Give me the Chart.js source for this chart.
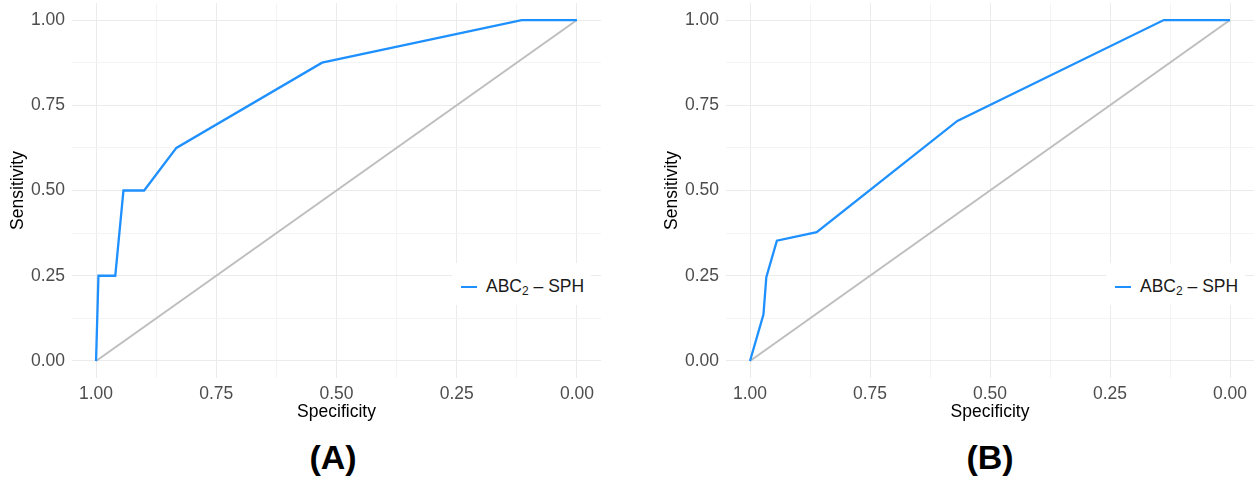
<!DOCTYPE html>
<html>
<head>
<meta charset="utf-8">
<script src="https://cdn.jsdelivr.net/npm/chart.js@4/dist/chart.umd.min.js"></script>
<style>
  body { margin: 0; background: #fff; }
  #wrap { position: relative; width: 1257px; height: 501px; overflow: hidden; font-family: "Liberation Sans", Arial, sans-serif; }
  canvas { position: absolute; top: 0; }
  #rocA { left: 0; }
  #rocB { left: 628px; }
  .legend { position: absolute; top: 263px; width: 139px; height: 42px; background: #fff; }
  .legend .key { position: absolute; left: 9px; top: 23px; width: 16px; height: 2px; background: #1E90FF; }
  .legend .txt { position: absolute; left: 34px; top: 13px; font-size: 17.5px; line-height: 20px; color: #1a1a1a; white-space: nowrap; }
  .legend sub { font-size: 12px; vertical-align: -3px; line-height: 0; }
  .panel { position: absolute; top: 438px; font-size: 34px; font-weight: bold; font-family: "Liberation Sans Narrow", "Liberation Sans", Arial, sans-serif; transform: translateX(-50%); }
</style>
</head>
<body>
<div id="wrap">
  <canvas id="rocA" width="628" height="430"></canvas>
  <canvas id="rocB" width="629" height="430"></canvas>
  <div class="legend" style="left:452px"><span class="key"></span><span class="txt">ABC<sub>2</sub> – SPH</span></div>
  <div class="legend" style="left:1106px"><span class="key"></span><span class="txt">ABC<sub>2</sub> – SPH</span></div>
  <div class="panel" style="left:333px">(A)</div>
  <div class="panel" style="left:990px">(B)</div>
</div>
<script>
// ROC points (specificity, sensitivity)
const specA = [1.00, 0.995, 0.96, 0.943, 0.90, 0.833, 0.53, 0.115, 0.00];
const sensA = [0.00, 0.25, 0.25, 0.50, 0.50, 0.625, 0.875, 1.00, 1.00];

const specB = [1.00, 0.972, 0.966, 0.944, 0.861, 0.568, 0.138, 0.00];
const sensB = [0.00, 0.136, 0.246, 0.353, 0.378, 0.704, 1.00, 1.00];

// chance line
const diagSpec = [1, 0];
const diagSens = [0, 1];

const majorTicks = [0, 0.25, 0.5, 0.75, 1];
const tickLabels = ['0.00', '0.25', '0.50', '0.75', '1.00'];
const minorTicks = [0.125, 0.375, 0.625, 0.875];

const FONT = '"Liberation Sans", Arial, sans-serif';
const allTicks = majorTicks.concat(minorTicks).sort((a, b) => a - b);

function toPoints(xs, ys) {
    return xs.map((x, i) => ({ x: x, y: ys[i] }));
}

function axis(titleText, isX) {
    return {
        type: 'linear',
        min: -0.05,
        max: 1.05,
        reverse: isX,
        afterBuildTicks: function(scale) {
            scale.ticks = allTicks.map(v => ({ value: v }));
        },
        afterFit: function(scale) {
            if (isX) scale.height = 52; else scale.width = 72;
            // ticks sit well inside the panel, no need for label overflow padding
            scale.paddingTop = 0;
            scale.paddingBottom = 0;
            scale.paddingLeft = 0;
            scale.paddingRight = 0;
        },
        border: { display: false },
        grid: {
            drawTicks: false,
            lineWidth: 1,
            color: function(ctx) {
                return majorTicks.includes(ctx.tick.value) ? '#EBEBEB' : '#F4F4F4';
            }
        },
        ticks: {
            autoSkip: false,
            maxRotation: 0,
            padding: isX ? 6 : 7,
            color: '#4D4D4D',
            font: { family: FONT, size: 17.5 },
            callback: function(v) {
                const i = majorTicks.indexOf(v);
                return i >= 0 ? tickLabels[i] : '';
            }
        },
        title: {
            display: true,
            text: titleText,
            color: '#000',
            font: { family: FONT, size: 17.5 },
            padding: isX ? { top: 0, bottom: 7.5 } : { top: 7.5, bottom: 0 }
        }
    };
}

function makeRoc(id, spec, sens, pad) {
    new Chart(document.getElementById(id), {
        type: 'line',
        data: {
            datasets: [{
                label: 'ABC2 - SPH',
                data: toPoints(spec, sens),
                borderColor: '#1E90FF',
                borderWidth: 2.3,
                pointRadius: 0,
                tension: 0
            }, {
                label: 'chance',
                data: toPoints(diagSpec, diagSens),
                borderColor: '#BEBEBE',
                borderWidth: 2,
                pointRadius: 0,
                tension: 0
            }]
        },
        options: {
            responsive: false,
            animation: false,
            layout: { padding: pad },
            scales: {
                x: axis('Specificity', true),
                y: axis('Sensitivity', false)
            },
            plugins: {
                legend: { display: false },
                tooltip: { enabled: false }
            }
        }
    });
}

makeRoc('rocA', specA, sensA, { left: 0, right: 27, top: 3, bottom: 0 });
makeRoc('rocB', specB, sensB, { left: 26, right: 3, top: 3, bottom: 0 });
</script>
</body>
</html>
